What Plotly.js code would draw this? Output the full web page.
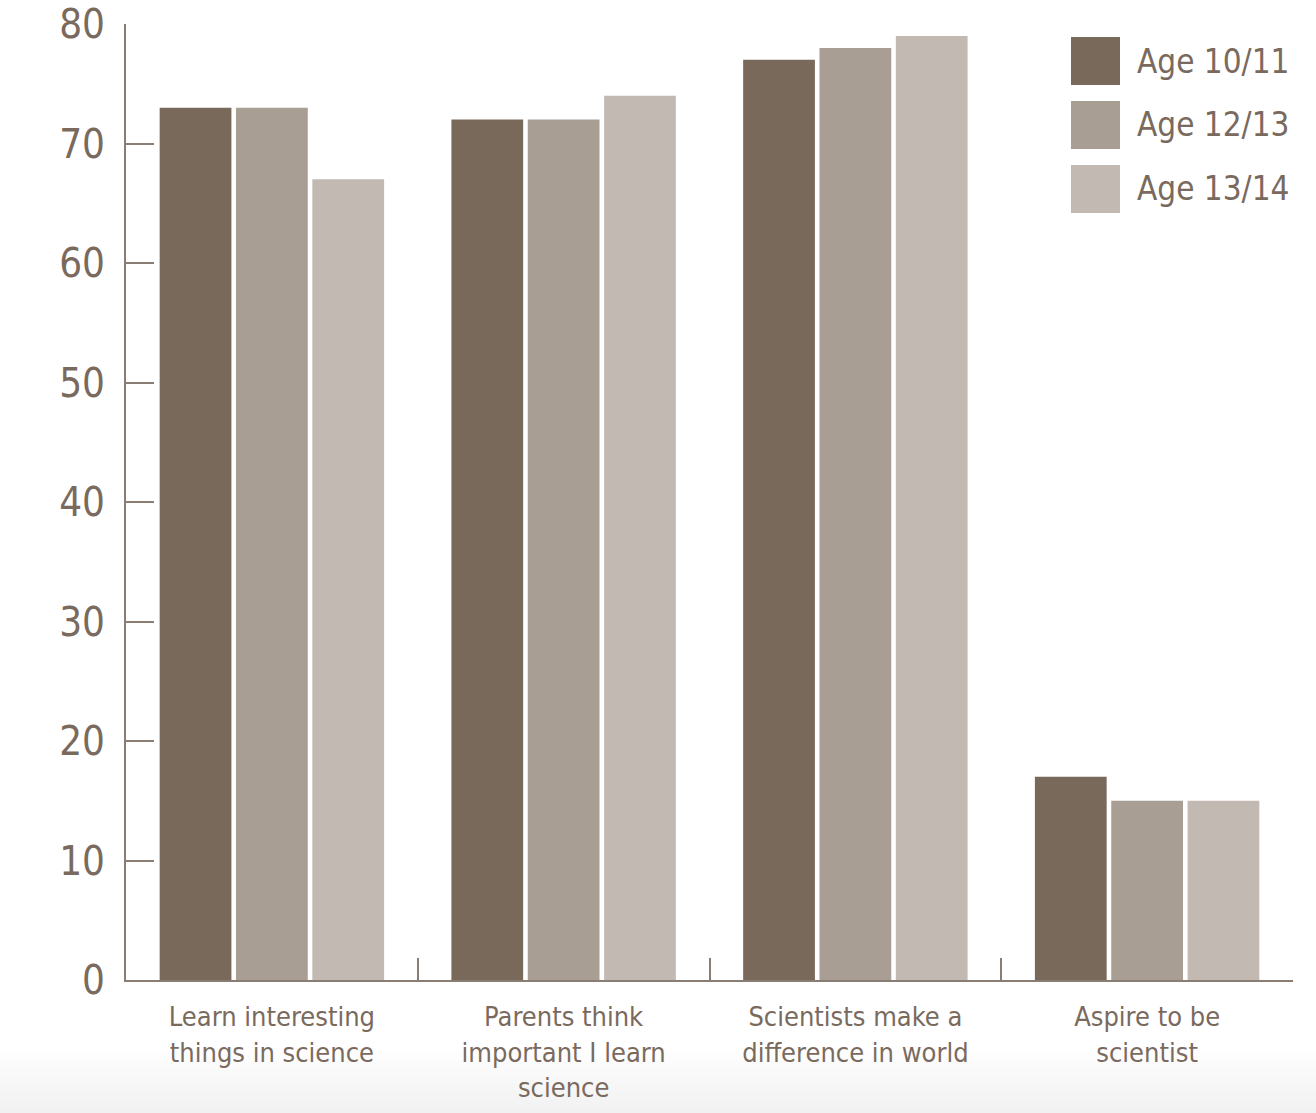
<!DOCTYPE html>
<html>
<head>
<meta charset="utf-8">
<script src="https://cdn.plot.ly/plotly-3.0.1.min.js"></script>
<style>
  html, body { margin: 0; padding: 0; }
  body {
    width: 1316px; height: 1113px; overflow: hidden;
    background: linear-gradient(to bottom, #ffffff 0px, #ffffff 1045px, #f1f1f1 1113px);
  }
  #chart { width: 1316px; height: 1113px; }
</style>
</head>
<body>
<div id="chart"></div>
<script>
// ---- data ----
const categories = [
  "Learn interesting<br>things in science",
  "Parents think<br>important I learn<br>science",
  "Scientists make a<br>difference in world",
  "Aspire to be<br>scientist"
];
const seriesNames = ["Age 10/11", "Age 12/13", "Age 13/14"];
const age1011 = [73, 72, 77, 17];
const age1213 = [73, 72, 78, 15];
const age1314 = [67, 74, 79, 15];
const yTickVals = [0, 10, 20, 30, 40, 50, 60, 70, 80];

// ---- style ----
const colors = ["#79695a", "#a89e94", "#c2b9b2"];
const textColor = "#7a6a5e";
const axisColor = "#8a7d73";
const font = "'Liberation Sans Narrow', 'DejaVu Sans Condensed', 'Liberation Sans', sans-serif";

const seriesValues = [age1011, age1213, age1314];
const traces = seriesValues.map((vals, i) => ({
  type: "bar",
  name: seriesNames[i],
  x: categories,
  y: vals,
  marker: { color: colors[i], line: { width: 0 } },
  hoverinfo: "x+y+name",
  showlegend: false
}));

// custom legend (large swatches)
const shapes = [];
const annotations = [];
seriesNames.forEach((name, i) => {
  const topPx = 37 + i * 64;
  const yTop = (980 - topPx) / 956;
  const yBot = (980 - (topPx + 48)) / 956;
  shapes.push({
    type: "rect", xref: "paper", yref: "paper",
    x0: (1071 - 126) / 1167, x1: (1120 - 126) / 1167,
    y0: yBot, y1: yTop,
    fillcolor: colors[i], line: { width: 0 }
  });
  annotations.push({
    xref: "paper", yref: "paper",
    x: (1135 - 126) / 1167, y: (yTop + yBot) / 2,
    xanchor: "left", yanchor: "middle",
    text: name, showarrow: false,
    font: { family: font, size: 33, color: textColor }
  });
});

const layout = {
  width: 1316, height: 1113,
  margin: { l: 126, r: 23, t: 24, b: 133, pad: 0 },
  paper_bgcolor: "rgba(0,0,0,0)",
  plot_bgcolor: "rgba(0,0,0,0)",
  barmode: "group",
  bargap: 0.215,
  bargroupgap: 0.06,
  showlegend: false,
  font: { family: font, color: textColor },
  xaxis: {
    type: "category",
    range: [-0.5, 3.5],
    showgrid: false,
    zeroline: false,
    showline: true, linecolor: axisColor, linewidth: 2,
    ticks: "inside", tickson: "boundaries", ticklen: 22, tickwidth: 2, tickcolor: axisColor,
    tickfont: { family: font, size: 27, color: textColor },
    ticklabelstandoff: 12,
    fixedrange: true
  },
  yaxis: {
    range: [0, 80],
    tickvals: yTickVals,
    ticktext: yTickVals.map(String),
    showgrid: false,
    zeroline: false,
    showline: true, linecolor: axisColor, linewidth: 2,
    ticks: "inside", ticklen: 28, tickwidth: 2, tickcolor: axisColor,
    tickfont: { family: font, size: 40, color: textColor },
    ticklabelstandoff: 11,
    fixedrange: true
  },
  shapes: shapes,
  annotations: annotations
};

Plotly.newPlot("chart", traces, layout, { displayModeBar: false, staticPlot: true });
</script>
</body>
</html>
